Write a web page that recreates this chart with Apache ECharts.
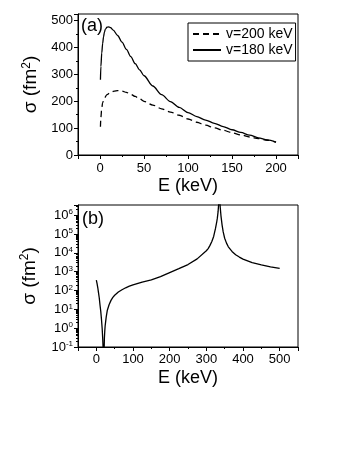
<!DOCTYPE html>
<html><head><meta charset="utf-8">
<script src="https://cdn.jsdelivr.net/npm/echarts@6/dist/echarts.min.js"></script>
<style>html,body{margin:0;padding:0;background:#fff}#c{width:350px;height:450px}</style>
</head><body><div id="c"></div>
<script>
// Panel (a): E (keV) and sigma (fm^2)
var eA200 = [0.5, 1, 2, 3, 5, 8, 12, 16, 20, 25, 30, 35, 40, 45, 50, 60, 70, 80, 90, 100, 110, 120, 130, 140, 150, 160, 170, 180, 190, 200];
var sA200 = [105, 140, 175, 195, 212, 225, 233, 238, 240, 238, 233, 226, 218, 209, 200, 186, 172, 160, 148, 134, 122, 111, 101, 92, 83, 75, 67, 61, 55, 48];
var eA180 = [0.5, 1, 2, 3, 4, 5, 6, 8, 10, 12, 15, 20, 25, 30, 35, 40, 45, 50, 60, 70, 80, 90, 100, 110, 120, 130, 140, 150, 160, 170, 180, 190, 200];
var sA180 = [280, 330, 380, 415, 440, 457, 468, 476, 477, 474, 465, 445, 420, 393, 366, 340, 317, 295, 257, 225, 199, 177, 158, 143, 130, 118, 106, 94, 84, 74, 64, 56, 48];
// Panel (b)
var eB = [0, 2, 4, 6, 8, 10, 12, 14, 16, 17.5, 19, 20, 21, 22, 23, 24, 25.5, 27, 30, 35, 40, 45, 50, 55, 60, 70, 80, 90, 100, 125, 150, 175, 200, 225, 250, 275, 300, 305, 310, 315, 320, 325, 328, 330, 332, 334, 335, 336, 338, 340, 343, 346, 350, 355, 360, 370, 380, 390, 400, 425, 450, 475, 500];
var sB = [355, 230, 140, 75, 40, 17, 8, 3, 0.9, 0.25, 0.05, 0.001, 0.04, 0.3, 0.7, 1.3, 2.3, 4, 9, 18, 30, 43, 56, 70, 83, 110, 140, 170, 200, 280, 370, 550, 900, 1450, 2400, 4800, 13000, 17000, 25000, 40000, 75000, 200000, 400000, 700000, 1500000, 5000000, 1e8, 1e7, 2500000, 900000, 300000, 130000, 60000, 33000, 21000, 12000, 8000, 6000, 4700, 3000, 2300, 1800, 1500];
var seriesNames = ['v=200 keV', 'v=180 keV'];
var xTitle = 'E (keV)';
var yTitle = 'σ (fm{s|2})';
var panelLabels = ['(a)', '(b)'];

function pairs(xs, ys){ return xs.map(function(x,i){ return [x, ys[i]]; }); }
var FF = 'Liberation Sans, Arial, sans-serif';
var black = '#000';
function xAxisCfg(gi, mn, mx, sn, margin){
  return {type:'value', gridIndex:gi, min:mn, max:mx, splitNumber:sn,
    axisLine:{show:true, onZero:false, lineStyle:{color:black, width:1}},
    axisTick:{show:true, inside:false, length:4, lineStyle:{color:black}},
    minorTick:{show:true, splitNumber:2, length:2, lineStyle:{color:black}},
    splitLine:{show:false},
    axisLabel:{color:black, fontSize:13, fontFamily:FF, margin:margin, showMinLabel:false, showMaxLabel:false},
    name:xTitle, nameLocation:'middle', nameGap:22,
    nameTextStyle:{color:black, fontSize:18, fontFamily:FF}};
}
var yName = {color:black, fontSize:19, fontFamily:FF,
  rich:{s:{fontSize:12, fontFamily:FF, color:black, verticalAlign:'top', padding:[0,0,9,0]}}};
var chart = echarts.init(document.getElementById('c'), null, {renderer:'canvas'});
chart.setOption({
  animation:false,
  backgroundColor:'#fff',
  textStyle:{fontFamily:FF},
  grid:[
    {left:78, top:14, width:220, height:141, show:true, borderColor:black, borderWidth:1, backgroundColor:'transparent'},
    {left:78, top:205, width:220, height:142, show:true, borderColor:black, borderWidth:1, backgroundColor:'transparent'}
  ],
  xAxis:[ xAxisCfg(0, -25, 225, 5, 7), xAxisCfg(1, -50, 550, 6, 6) ],
  yAxis:[
    {type:'value', gridIndex:0, min:0, max:525, interval:100,
     axisLine:{show:true, onZero:false, lineStyle:{color:black}},
     axisTick:{show:true, length:4, lineStyle:{color:black}},
     minorTick:{show:true, splitNumber:2, length:2, lineStyle:{color:black}},
     splitLine:{show:false},
     axisLabel:{color:black, fontSize:13, fontFamily:FF, margin:5, showMaxLabel:false},
     name:yTitle, nameLocation:'middle', nameGap:21, nameTextStyle:yName},
    {type:'log', logBase:10, gridIndex:1, min:0.1, max:3.5e6,
     axisLine:{show:true, onZero:false, lineStyle:{color:black}},
     axisTick:{show:true, length:4, lineStyle:{color:black}},
     minorTick:{show:true, splitNumber:9, length:2, lineStyle:{color:black}},
     splitLine:{show:false},
     axisLabel:{color:black, fontSize:13, fontFamily:FF, margin:5, showMaxLabel:false,
       formatter:function(v){ return '10{e|' + Math.round(Math.log10(v)) + '}'; },
       rich:{e:{fontSize:8, fontFamily:FF, color:black, verticalAlign:'top', padding:[0,0,6,0]}}},
     name:yTitle, nameLocation:'middle', nameGap:38, nameTextStyle:yName}
  ],
  legend:{
    orient:'vertical', left:188, top:23, data:seriesNames,
    borderColor:black, borderWidth:1, borderRadius:0, padding:[4,3,4,4],
    itemWidth:28, itemHeight:14, itemGap:2,
    itemStyle:{opacity:0},
    textStyle:{color:black, fontSize:14, fontFamily:FF}
  },
  graphic:[
    {type:'text', left:81, top:17, style:{text:panelLabels[0], fontSize:18, fontFamily:FF, fill:black}},
    {type:'text', left:82, top:210, style:{text:panelLabels[1], fontSize:18, fontFamily:FF, fill:black}}
  ],
  series:[
    {name:seriesNames[0], type:'line', xAxisIndex:0, yAxisIndex:0, data:pairs(eA200, sA200),
     showSymbol:false, symbol:'none', smooth:0.3, smoothMonotone:'x',
     lineStyle:{color:black, width:1.3, type:[6,4]}, itemStyle:{color:black}},
    {name:seriesNames[1], type:'line', xAxisIndex:0, yAxisIndex:0, data:pairs(eA180, sA180),
     showSymbol:false, symbol:'none', smooth:0.3, smoothMonotone:'x',
     lineStyle:{color:black, width:1.3}, itemStyle:{color:black}},
    {name:'b', type:'line', xAxisIndex:1, yAxisIndex:1, data:pairs(eB, sB),
     showSymbol:false, symbol:'none', smooth:false, clip:true,
     lineStyle:{color:black, width:1.3}, itemStyle:{color:black}}
  ]
});
</script></body></html>
